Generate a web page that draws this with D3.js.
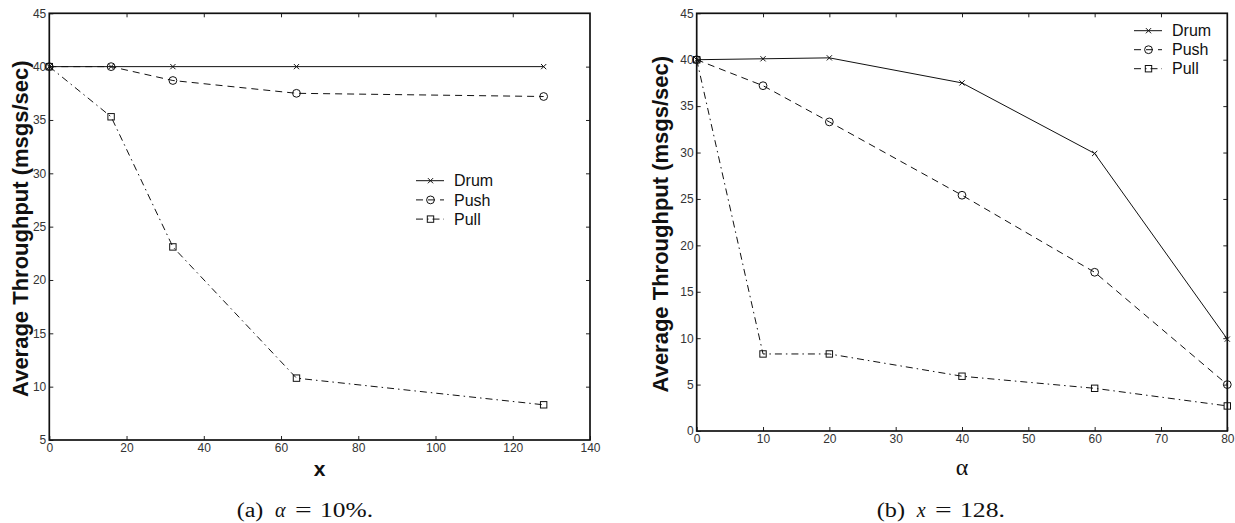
<!DOCTYPE html>
<html>
<head>
<meta charset="utf-8">
<script src="https://cdn.jsdelivr.net/npm/d3@7"></script>
<style>
  html, body { margin: 0; padding: 0; background: #fff; }
  svg { display: block; }
  .tick text { font-family: "Liberation Sans", Arial, Helvetica, sans-serif; font-size: 12px; fill: #333; }
  .tick line { stroke: #222; stroke-width: 1; }
  .domain { display: none; }
</style>
</head>
<body>
<svg id="chart" width="1235" height="523"></svg>
<script>
// ---- Data -------------------------------------------------------------
const seriesNames = ["Drum", "Push", "Pull"];

// Panel (a): throughput vs. x at alpha = 10%
const xValuesA = [0, 16, 32, 64, 128];
const drumA = [40, 40, 40, 40, 40];
const pushA = [40, 40, 38.7, 37.5, 37.2];
const pullA = [40, 35.3, 23.1, 10.8, 8.3];
const xTicksA = [0, 20, 40, 60, 80, 100, 120, 140];
const yTicksA = [5, 10, 15, 20, 25, 30, 35, 40, 45];

// Panel (b): throughput vs. alpha at x = 128
const alphaValuesB = [0, 10, 20, 40, 60, 80];
const drumB = [40, 40.1, 40.2, 37.5, 29.9, 9.9];
const pushB = [40, 37.2, 33.3, 25.4, 17.1, 5.0];
const pullB = [40, 8.3, 8.3, 5.9, 4.6, 2.7];
const xTicksB = [0, 10, 20, 30, 40, 50, 60, 70, 80];
const yTicksB = [0, 5, 10, 15, 20, 25, 30, 35, 40, 45];

const yLabel = "Average Throughput (msgs/sec)";

// ---- Styles per series ------------------------------------------------
const seriesStyle = {
  Drum: { dash: null, marker: "cross" },
  Push: { dash: "7,5", marker: "circle" },
  Pull: { dash: "7,4,1.5,4", marker: "square" }
};

const svg = d3.select("#chart");

function drawMarker(g, kind, cx, cy) {
  if (kind === "cross") {
    const h = 2.6;
    g.append("path")
      .attr("d", `M${cx - h},${cy - h}L${cx + h},${cy + h}M${cx - h},${cy + h}L${cx + h},${cy - h}`)
      .attr("stroke", "#111").attr("stroke-width", 1).attr("fill", "none");
  } else if (kind === "circle") {
    g.append("circle").attr("cx", cx).attr("cy", cy).attr("r", 3.9)
      .attr("stroke", "#111").attr("stroke-width", 1).attr("fill", "none");
  } else {
    const s = 6.4;
    g.append("rect").attr("x", cx - s / 2).attr("y", cy - s / 2)
      .attr("width", s).attr("height", s)
      .attr("stroke", "#111").attr("stroke-width", 1).attr("fill", "none");
  }
}

function drawPanel(cfg) {
  const { left, right, top, bottom } = cfg.box;
  const x = d3.scaleLinear().domain(cfg.xDomain).range([left, right]);
  const y = d3.scaleLinear().domain(cfg.yDomain).range([bottom, top]);
  const g = svg.append("g");

  // Inward ticks on all four sides
  g.append("g").attr("transform", `translate(0,${bottom})`)
    .call(d3.axisBottom(x).tickValues(cfg.xTicks).tickSizeInner(-4).tickSizeOuter(0).tickPadding(3));
  g.append("g").attr("transform", `translate(0,${top})`)
    .call(d3.axisTop(x).tickValues(cfg.xTicks.slice(1, -1)).tickSizeInner(-4).tickSizeOuter(0).tickFormat(""));
  g.append("g").attr("transform", `translate(${left},0)`)
    .call(d3.axisLeft(y).tickValues(cfg.yTicks).tickSizeInner(-4).tickSizeOuter(0).tickPadding(3));
  g.append("g").attr("transform", `translate(${right},0)`)
    .call(d3.axisRight(y).tickValues(cfg.yTicks.slice(1, -1)).tickSizeInner(-4).tickSizeOuter(0).tickFormat(""));

  // Frame
  g.append("rect").attr("x", left).attr("y", top)
    .attr("width", right - left).attr("height", bottom - top)
    .attr("fill", "none").attr("stroke", "#111").attr("stroke-width", 1.7);

  // Series lines and markers
  const line = d3.line().x(d => x(d[0])).y(d => y(d[1]));
  cfg.series.forEach(s => {
    const st = seriesStyle[s.name];
    const pts = cfg.xs.map((v, i) => [v, s.values[i]]);
    g.append("path").datum(pts).attr("d", line)
      .attr("fill", "none").attr("stroke", "#111").attr("stroke-width", 1)
      .attr("stroke-dasharray", st.dash);
    const mg = g.append("g");
    pts.forEach(p => drawMarker(mg, st.marker, x(p[0]), y(p[1])));
  });

  // Legend
  const lg = cfg.legend;
  seriesNames.forEach((name, i) => {
    const st = seriesStyle[name];
    const ry = lg.y + i * lg.step;
    g.append("line").attr("x1", lg.x).attr("x2", lg.x + 28).attr("y1", ry).attr("y2", ry)
      .attr("stroke", "#111").attr("stroke-width", 1).attr("stroke-dasharray", st.dash);
    drawMarker(g, st.marker, lg.x + 14.5, ry);
    g.append("text").attr("x", lg.x + 38).attr("y", ry).attr("dy", "0.36em")
      .attr("font-family", "Liberation Sans, Arial, Helvetica, sans-serif")
      .attr("font-size", 16).attr("fill", "#111").text(name);
  });

  // Y axis label
  g.append("text")
    .attr("transform", `translate(${cfg.yLabelX},${(top + bottom) / 2 + 2}) rotate(-90)`)
    .attr("text-anchor", "middle")
    .attr("font-family", "Liberation Sans, Arial, Helvetica, sans-serif")
    .attr("font-weight", "bold").attr("font-size", 22).attr("fill", "#111")
    .text(yLabel);

  return { x, y };
}

// ---- Panel (a) --------------------------------------------------------
drawPanel({
  box: { left: 49.3, right: 590, top: 13.3, bottom: 440 },
  xDomain: [0, 140], yDomain: [5, 45],
  xTicks: xTicksA, yTicks: yTicksA,
  xs: xValuesA,
  series: [
    { name: "Drum", values: drumA },
    { name: "Push", values: pushA },
    { name: "Pull", values: pullA }
  ],
  legend: { x: 416, y: 180.7, step: 19.2 },
  yLabelX: 27.5
});

svg.append("text").attr("x", 319.5).attr("y", 476).attr("text-anchor", "middle")
  .attr("font-family", "Liberation Sans, Arial, Helvetica, sans-serif")
  .attr("font-weight", "bold").attr("font-size", 21).attr("fill", "#111").text("x");

// ---- Panel (b) --------------------------------------------------------
drawPanel({
  box: { left: 696.7, right: 1227.3, top: 13.3, bottom: 431 },
  xDomain: [0, 80], yDomain: [0, 45],
  xTicks: xTicksB, yTicks: yTicksB,
  xs: alphaValuesB,
  series: [
    { name: "Drum", values: drumB },
    { name: "Push", values: pushB },
    { name: "Pull", values: pullB }
  ],
  legend: { x: 1134, y: 30.7, step: 19 },
  yLabelX: 668
});

svg.append("text").attr("x", 962).attr("y", 475).attr("text-anchor", "middle")
  .attr("font-family", "Liberation Serif, Times New Roman, serif")
  .attr("font-size", 24).attr("fill", "#111").text("α");

// ---- Captions ---------------------------------------------------------
const serif = "Liberation Serif, Times New Roman, serif";
function caption(parts) {
  parts.forEach(p => {
    svg.append("text").attr("x", p.x).attr("y", 517)
      .attr("font-family", serif).attr("font-size", 20)
      .attr("font-style", p.italic ? "italic" : "normal")
      .attr("fill", "#111")
      .attr("textLength", p.w || null)
      .attr("lengthAdjust", "spacingAndGlyphs")
      .text(p.t);
  });
}
caption([
  { t: "(a)", x: 236.7, w: 26.6 },
  { t: "α", x: 275, italic: true },
  { t: "=", x: 295, w: 16.7 },
  { t: "10%.", x: 320, w: 53 }
]);
caption([
  { t: "(b)", x: 876.7, w: 28.3 },
  { t: "x", x: 916.7, italic: true },
  { t: "=", x: 935, w: 16.7 },
  { t: "128.", x: 960, w: 45 }
]);
</script>
</body>
</html>
